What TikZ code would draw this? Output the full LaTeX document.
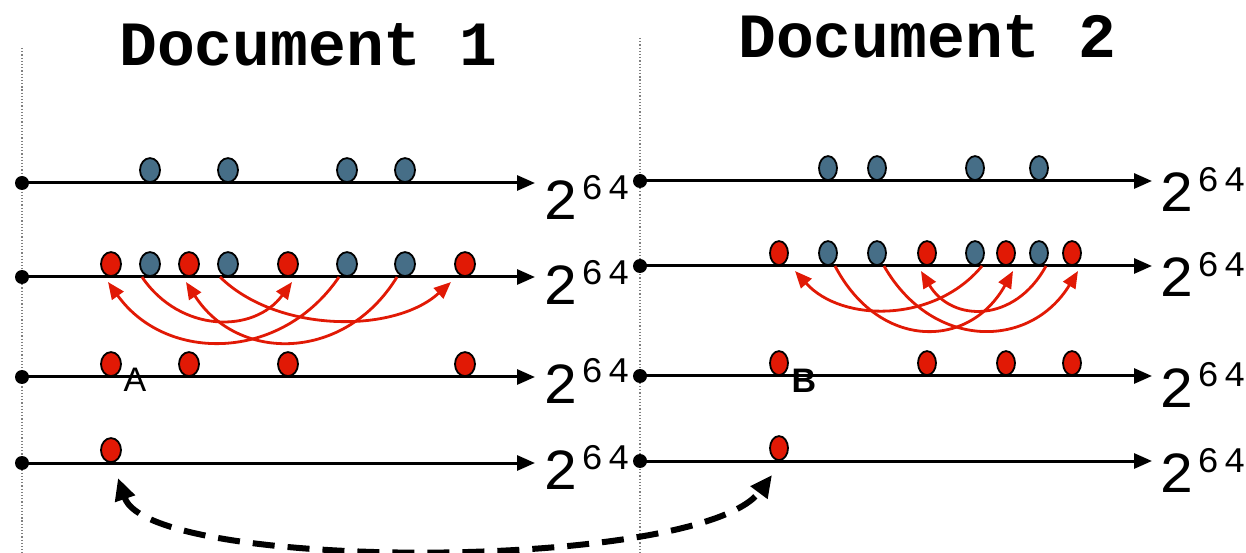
\documentclass[tikz,border=0pt]{standalone}
\usepackage{fontspec}
\usepackage{tikz}
\usetikzlibrary{arrows.meta, positioning, shapes.geometric}
\newfontfamily\monofont{Liberation Mono}
\newfontfamily\labfont{Liberation Sans}
\definecolor{dotblue}{RGB}{70,110,135}
\definecolor{dotred}{RGB}{225,25,5}

\begin{document}
\begin{tikzpicture}[x=1bp, y=-1bp,
    axis/.style={line width=3bp, -{Triangle[length=18bp,width=15bp]}},
    origin/.style={circle, fill=black, inner sep=0pt, minimum size=14bp},
    bdot/.style={ellipse, draw=black, line width=1.8bp, fill=dotblue, inner sep=0pt,
                 minimum width=20bp, minimum height=24bp, anchor=south},
    rdot/.style={bdot, fill=dotred},
    slim/.style={minimum width=18bp},
    swap/.style={draw=dotred, line width=2.8bp, -{Triangle[length=17bp,width=14bp]}},
    two/.style={font=\monofont\fontsize{58bp}{58bp}\selectfont, inner sep=0pt, anchor=base west},
    pow/.style={font=\monofont\fontsize{36bp}{36bp}\selectfont, inner sep=0pt, anchor=base west},
    title/.style={font=\monofont\bfseries\fontsize{63bp}{63bp}\selectfont, inner sep=0pt, anchor=base west},
    tag/.style={font=\labfont\fontsize{34bp}{34bp}\selectfont, inner sep=0pt},
    jump/.style={line width=6bp, dash pattern=on 22bp off 13bp,
                 {Triangle[length=22bp,width=20bp]}-{Triangle[length=22bp,width=20bp]}},
    guide/.style={gray, line width=1.2bp, dotted}]
  \useasboundingbox (0,0) rectangle (1246,553);

  % separators and titles
  \draw[guide] (22,48) -- (22,553);
  \draw[guide] (640,38) -- (640,553);
  \node[title] (t1) at (119,66) {Document 1};
  \node[title] (t2) at (738,58) {Document 2};

  % the 2^64 lines of document 1
  \foreach \n/\y/\b in {1/183/37,2/277/28,3/377/26,4/463/26} {
    \node[origin] (o1\n) at (22,\y) {};
    \coordinate (e1\n) at (535,\y);
    \draw[axis] (o1\n.center) -- (e1\n);
    \node[two] (m1\n) at (543,\y+\b) {2};
    \node[pow] (p1\n) at ([shift={(3,-20)}]m1\n.base east) {6\kern5bp4};
  }
  % the 2^64 lines of document 2
  \foreach \n/\y in {1/181,2/266,3/376,4/461} {
    \node[origin] (o2\n) at (640,\y) {};
    \coordinate (e2\n) at (1152,\y);
    \draw[axis] (o2\n.center) -- (e2\n);
    \node[two] (m2\n) at (1159,\y+31) {2};
    \node[pow] (p2\n) at ([shift={(3,-20)}]m2\n.base east) {6\kern5bp4};
  }

  % document 1 hashes
  \foreach \k/\x in {1/150,2/228,3/347,4/405}
    \node[bdot] (h\k) at (\x,183) {};
  \foreach \k/\x/\c in {1/111/rdot,2/150/bdot,3/189/rdot,4/228/bdot,
                        5/288/rdot,6/347/bdot,7/405/bdot,8/465/rdot}
    \node[\c] (a\k) at (\x,277) {};
  \foreach \k/\x in {1/111,2/189,3/288,4/465}
    \node[rdot] (s\k) at (\x,377) {};
  \node[rdot] (d1) at (111,463) {};
  \node[tag] (la) at (135,380) {A};

  % document 2 hashes
  \foreach \k/\x in {1/828,2/877,3/975,4/1039}
    \node[bdot, slim] (g\k) at (\x,181) {};
  \foreach \k/\x/\c in {1/779/rdot,2/828/bdot,3/877/bdot,4/927/rdot,
                        5/975/bdot,6/1006/rdot,7/1039/bdot,8/1072/rdot}
    \node[\c, slim] (c\k) at (\x,266) {};
  \foreach \k/\x in {1/779,2/927,3/1006,4/1072}
    \node[rdot, slim] (u\k) at (\x,376) {};
  \node[rdot, slim] (d2) at (779,461) {};
  \node[tag, font=\labfont\bfseries\fontsize{34bp}{34bp}\selectfont] (lb) at (804,381) {B};

  % swaps in document 1
  \draw[swap] ([xshift=-8bp]a2.south) .. controls +(38,56) and +(-38,52) .. ([shift={(4,5)}]a5.south);
  \draw[swap] ([xshift=-8bp]a6.south) .. controls +(-58,85) and +(58,81) .. ([shift={(-3,5)}]a1.south);
  \draw[swap] ([xshift=-8bp]a4.south) .. controls +(57,56) and +(-57,52) .. ([shift={(-14,5)}]a8.south);
  \draw[swap] ([xshift=-8bp]a7.south) .. controls +(-52,85) and +(52,81) .. ([shift={(-3,5)}]a3.south);
  % swaps in document 2
  \draw[swap] ([xshift=7bp]c5.south) .. controls +(-47,57) and +(47,52) .. ([shift={(16,5)}]c1.south);
  \draw[swap] ([xshift=7bp]c2.south) .. controls +(44,84) and +(-44,79) .. ([shift={(7,5)}]c6.south);
  \draw[swap] ([xshift=7bp]c3.south) .. controls +(48,84) and +(-48,79) .. ([shift={(6,5)}]c8.south);
  \draw[swap] ([xshift=7bp]c7.south) .. controls +(-31,57) and +(31,52) .. ([shift={(-6,5)}]c4.south);

  % link between the two documents
  \draw[jump] ([shift={(7,15)}]d1.south) .. controls +(32,94) and +(-72,97) .. ([shift={(-7,14)}]d2.south);
\end{tikzpicture}
\end{document}
